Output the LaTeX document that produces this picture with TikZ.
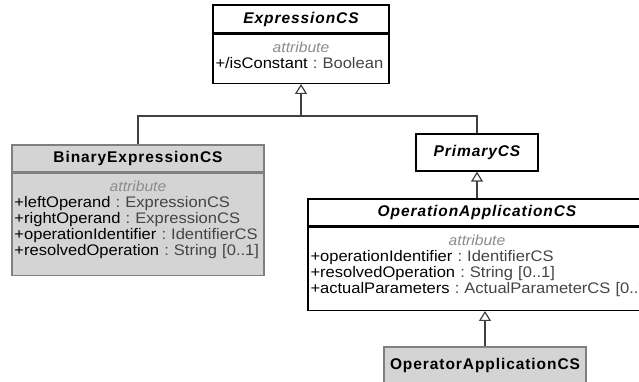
\documentclass[tikz,border=0pt]{standalone}
\usepackage{fontspec}
\setmainfont{Liberation Sans}[FakeStretch=1.08]
\newfontfamily\headfont[LetterSpace=6]{Liberation Sans}
\usepackage{tikz}
\usetikzlibrary{arrows.meta, positioning, calc}
\setlength{\parindent}{0pt}

\definecolor{boxgray}{HTML}{D4D4D4}
\definecolor{bordergray}{HTML}{7F7F7F}
\definecolor{typegray}{HTML}{444444}
\definecolor{stereogray}{HTML}{8C8C8C}
\definecolor{linegray}{HTML}{404040}

\newcommand{\stereo}{{\centering\fontsize{14.5}{15.8}\selectfont\itshape\color{stereogray}attribute\par}}
\newcommand{\attr}[2]{\mbox{#1\ \textcolor{typegray}{:\ #2}}\par}

\begin{document}
\begin{tikzpicture}[x=1pt, y=-1pt,
  cls/.style={draw=black, fill=white, line width=1.3pt, inner sep=0pt},
  concrete/.style={draw=bordergray, fill=boxgray},
  head/.style={cls, font=\headfont\fontsize{15.5}{18}\selectfont\bfseries, text height=11.5pt, text depth=3.5pt},
  abstracthead/.style={head, font=\headfont\fontsize{15.5}{18}\selectfont\bfseries\itshape},
  attrs/.style={cls, anchor=north, inner xsep=2.5pt, inner ysep=0pt, align=left, text height=18.5pt, font=\fontsize{15.3}{15.8}\selectfont},
  gen/.style={draw=linegray, line width=1.2pt, -{Triangle[length=10pt, width=12pt, fill=white]}},
  assoc/.style={draw=linegray, line width=1.2pt}]
\useasboundingbox (0,0) rectangle (639,381);
\clip (0,0) rectangle (639,381);

% root class
\node[abstracthead, minimum width=176pt, minimum height=28pt] (expr) at (301,19) {ExpressionCS};
\node[attrs, text width=171pt, text depth=30.5pt] (expr-attr) at (expr.south)
  {\stereo\attr{+/isConstant}{Boolean}};

% left branch
\node[head, concrete, minimum width=252pt, minimum height=27pt] (binexp) at (138,158.5) {BinaryExpressionCS};
\node[attrs, concrete, text width=247pt, text depth=83.5pt] (binexp-attr) at (binexp.south)
  {\stereo
   \attr{+leftOperand}{ExpressionCS}
   \attr{+rightOperand}{ExpressionCS}
   \attr{+operationIdentifier}{IdentifierCS}
   \attr{+resolvedOperation}{String [0..1]}};

% right branch
\node[abstracthead, minimum width=122pt, minimum height=37pt] (primary) at (477,152.5) {PrimaryCS};
\node[abstracthead, minimum width=338pt, minimum height=27pt] (opapp) at (477,212.5) {OperationApplicationCS};
\node[attrs, text width=333pt, text depth=64.5pt] (opapp-attr) at (opapp.south)
  {\stereo
   \attr{+operationIdentifier}{IdentifierCS}
   \attr{+resolvedOperation}{String [0..1]}
   \attr{+actualParameters}{ActualParameterCS [0..*]}};
\node[head, concrete, minimum width=202pt, minimum height=36pt] (operator) at (485,365) {OperatorApplicationCS};

% generalizations
\coordinate (fork) at (301,116);
\draw[gen] (binexp.north) |- (fork) -- (expr-attr.south);
\draw[assoc] (primary.north) |- (fork);
\draw[gen] (opapp.north) -- (opapp.north |- primary.south);
\draw[gen] (operator.north) -- (operator.north |- opapp-attr.south);
\end{tikzpicture}
\end{document}
